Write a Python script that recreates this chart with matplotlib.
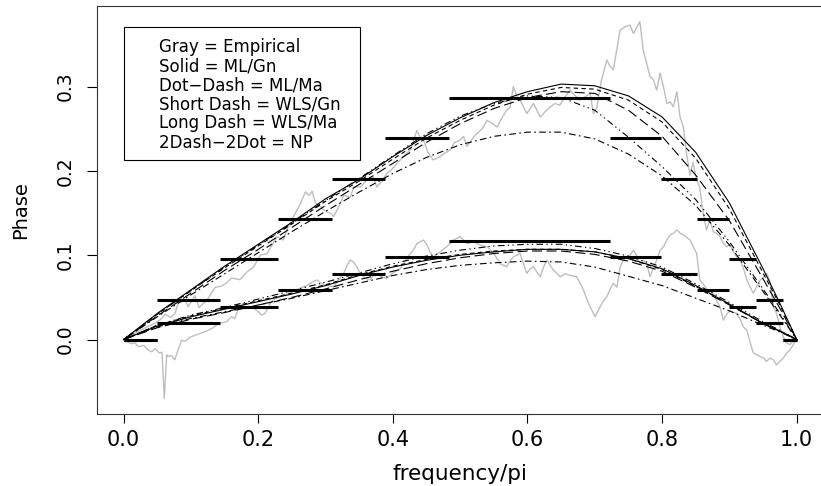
import matplotlib
matplotlib.use("Agg")
import matplotlib.pyplot as plt
from matplotlib.patches import Rectangle

# frequency grid for the fitted phase curves
freq = [0.0, 0.05, 0.1, 0.15, 0.2, 0.25, 0.3, 0.35, 0.4, 0.45, 0.5,
        0.55, 0.6, 0.65, 0.7, 0.75, 0.8, 0.85, 0.9, 0.95, 0.975, 1.0]

# upper group of fits
hi_ml_gn = [0.0, 0.031, 0.059, 0.087, 0.113, 0.139, 0.167, 0.190, 0.217, 0.242, 0.263,
            0.281, 0.294, 0.303, 0.301, 0.289, 0.264, 0.222, 0.162, 0.084, 0.043, 0.0]
hi_ml_ma = [0.0, 0.027, 0.053, 0.078, 0.103, 0.128, 0.152, 0.175, 0.197, 0.216, 0.231,
            0.241, 0.246, 0.246, 0.238, 0.220, 0.194, 0.159, 0.112, 0.057, 0.029, 0.0]
hi_wls_gn = [0.0, 0.030, 0.058, 0.085, 0.111, 0.137, 0.164, 0.188, 0.214, 0.239, 0.260,
             0.278, 0.291, 0.299, 0.297, 0.284, 0.258, 0.215, 0.155, 0.079, 0.041, 0.0]
hi_wls_ma = [0.0, 0.028, 0.055, 0.082, 0.107, 0.133, 0.159, 0.184, 0.209, 0.234, 0.256,
             0.274, 0.287, 0.294, 0.292, 0.272, 0.241, 0.195, 0.141, 0.072, 0.037, 0.0]
hi_np = [0.0, 0.030, 0.058, 0.086, 0.112, 0.138, 0.165, 0.191, 0.218, 0.244, 0.265,
         0.280, 0.289, 0.287, 0.272, 0.240, 0.205, 0.166, 0.116, 0.060, 0.031, 0.0]

# lower group of fits
lo_ml_gn = [0.0, 0.016, 0.027, 0.036, 0.045, 0.054, 0.064, 0.076, 0.086, 0.094, 0.100,
            0.104, 0.107, 0.107, 0.104, 0.096, 0.084, 0.064, 0.042, 0.019, 0.010, 0.0]
lo_ml_ma = [0.0, 0.015, 0.025, 0.033, 0.041, 0.049, 0.058, 0.067, 0.076, 0.083, 0.088,
            0.091, 0.093, 0.092, 0.086, 0.075, 0.064, 0.049, 0.034, 0.017, 0.009, 0.0]
lo_wls_gn = [0.0, 0.017, 0.028, 0.037, 0.046, 0.055, 0.065, 0.077, 0.087, 0.095, 0.101,
             0.105, 0.107, 0.107, 0.104, 0.096, 0.083, 0.063, 0.042, 0.019, 0.010, 0.0]
lo_wls_ma = [0.0, 0.014, 0.024, 0.032, 0.041, 0.050, 0.060, 0.071, 0.081, 0.090, 0.097,
             0.102, 0.105, 0.105, 0.101, 0.093, 0.081, 0.062, 0.041, 0.019, 0.010, 0.0]
lo_np = [0.0, 0.017, 0.029, 0.038, 0.048, 0.058, 0.068, 0.079, 0.090, 0.099, 0.106,
         0.111, 0.113, 0.113, 0.108, 0.099, 0.086, 0.066, 0.044, 0.021, 0.011, 0.0]

# empirical phase, upper
emp_hi_x = [0.0, 0.01, 0.02, 0.03, 0.04, 0.048, 0.055, 0.062, 0.07, 0.0763, 0.081, 0.091,
            0.096, 0.106, 0.112, 0.124, 0.136, 0.144, 0.153, 0.16, 0.173, 0.183, 0.193,
            0.203, 0.213, 0.222, 0.228, 0.237, 0.245, 0.2525, 0.262, 0.27, 0.276, 0.28,
            0.285, 0.292, 0.3, 0.307, 0.312, 0.32, 0.327, 0.337, 0.342, 0.352, 0.361,
            0.371, 0.376, 0.384, 0.391, 0.4, 0.411, 0.418, 0.426, 0.4357, 0.4405, 0.4455,
            0.452, 0.46, 0.47, 0.477, 0.485, 0.492, 0.5, 0.505, 0.51, 0.518, 0.525, 0.533,
            0.54, 0.548, 0.555, 0.56, 0.569, 0.574, 0.579, 0.584, 0.589, 0.594, 0.599,
            0.604, 0.609, 0.614, 0.619, 0.626, 0.634, 0.641, 0.648, 0.656, 0.6633, 0.67,
            0.678, 0.686, 0.693, 0.698, 0.703, 0.71, 0.718, 0.722, 0.7276, 0.733, 0.7376,
            0.745, 0.7524, 0.7574, 0.762, 0.767, 0.772, 0.777, 0.782, 0.787, 0.792, 0.797,
            0.802, 0.807, 0.812, 0.8167, 0.822, 0.8267, 0.8316, 0.8366, 0.8415, 0.846,
            0.851, 0.856, 0.861, 0.866, 0.871, 0.876, 0.881, 0.886, 0.891, 0.896, 0.901,
            0.906, 0.911, 0.916, 0.921, 0.926, 0.931, 0.9356, 0.94, 0.945, 0.9505, 0.9554,
            0.96, 0.9653, 0.97, 0.975, 0.98, 0.985, 0.99, 0.995, 1.0]
emp_hi_y = [0.0, 0.004, 0.009, 0.013, 0.017, 0.02, 0.024, 0.03, 0.026, 0.031, 0.043, 0.047,
            0.039, 0.052, 0.038, 0.047, 0.062, 0.063, 0.067, 0.073, 0.071, 0.08, 0.086,
            0.1, 0.102, 0.114, 0.122, 0.118, 0.135, 0.146, 0.16, 0.175, 0.171, 0.176,
            0.162, 0.158, 0.152, 0.15, 0.146, 0.158, 0.171, 0.169, 0.181, 0.181, 0.189,
            0.193, 0.181, 0.188, 0.197, 0.203, 0.213, 0.219, 0.225, 0.248, 0.24, 0.2366,
            0.222, 0.213, 0.217, 0.221, 0.225, 0.234, 0.2366, 0.241, 0.229, 0.238, 0.2446, 0.25,
            0.26, 0.256, 0.252, 0.26, 0.272, 0.275, 0.3, 0.289, 0.284, 0.276, 0.268,
            0.274, 0.28, 0.272, 0.264, 0.27, 0.276, 0.28, 0.278, 0.288, 0.296, 0.29,
            0.284, 0.288, 0.292, 0.268, 0.275, 0.308, 0.3315, 0.325, 0.32, 0.345, 0.367,
            0.371, 0.373, 0.363, 0.37, 0.377, 0.343, 0.328, 0.312, 0.308, 0.296, 0.316,
            0.3, 0.28, 0.282, 0.276, 0.294, 0.264, 0.2524, 0.219, 0.195, 0.21,
            0.19, 0.18, 0.15, 0.13, 0.142, 0.128, 0.126, 0.122, 0.114, 0.11, 0.113,
            0.104, 0.098, 0.094, 0.084, 0.0706, 0.062, 0.0548, 0.062, 0.07, 0.074, 0.0785,
            0.07, 0.039, 0.031, 0.015, 0.003, -0.004, -0.006, -0.002, 0.0]

# empirical phase, lower
emp_lo_x = [0.0, 0.006, 0.012, 0.017, 0.022, 0.03, 0.036, 0.0416, 0.047, 0.053, 0.057,
            0.0604, 0.064, 0.066, 0.071, 0.076, 0.081, 0.086, 0.092, 0.099, 0.106, 0.113,
            0.12, 0.1257, 0.133, 0.1406, 0.147, 0.153, 0.16, 0.165, 0.17, 0.18, 0.19, 0.2,
            0.205, 0.21, 0.216, 0.22, 0.2297, 0.24, 0.25, 0.2623, 0.272, 0.28, 0.287,
            0.295, 0.303, 0.312, 0.32, 0.327, 0.332, 0.3366, 0.3415, 0.3465, 0.351, 0.356,
            0.361, 0.366, 0.371, 0.376, 0.384, 0.391, 0.4, 0.411, 0.4257, 0.4307, 0.4357,
            0.4455, 0.451, 0.455, 0.46, 0.47, 0.48, 0.49, 0.5, 0.51, 0.52, 0.53, 0.54,
            0.55, 0.5594, 0.569, 0.574, 0.579, 0.589, 0.594, 0.599, 0.604, 0.609, 0.614,
            0.619, 0.624, 0.6287, 0.6336, 0.6386, 0.6485, 0.656, 0.664, 0.673, 0.678,
            0.6832, 0.688, 0.693, 0.7005, 0.704, 0.708, 0.713, 0.718, 0.723, 0.7276,
            0.733, 0.7376, 0.742, 0.7475, 0.752, 0.7574, 0.762, 0.767, 0.772, 0.7772,
            0.782, 0.787, 0.792, 0.797, 0.802, 0.807, 0.812, 0.817, 0.822, 0.827, 0.832,
            0.8415, 0.8465, 0.8514, 0.856, 0.861, 0.866, 0.871, 0.876, 0.881, 0.886,
            0.891, 0.896, 0.901, 0.906, 0.911, 0.916, 0.9207, 0.926, 0.931, 0.9356,
            0.9405, 0.9455, 0.951, 0.955, 0.9604, 0.9653, 0.97, 0.975, 0.98, 0.985, 0.99,
            0.995, 1.0]
emp_lo_y = [0.0, -0.003, -0.005, -0.004, -0.0085, -0.007, -0.012, -0.0145, -0.011, -0.016,
            -0.015, -0.07, -0.018, -0.02, -0.019, -0.024, -0.012, -0.001, -0.002, 0.003,
            0.005, 0.007, 0.009, 0.011, 0.014, 0.019, 0.02, 0.021, 0.027, 0.025, 0.035,
            0.037, 0.039, 0.033, 0.029, 0.031, 0.04, 0.045, 0.0508, 0.053, 0.057, 0.0607,
            0.064, 0.068, 0.0706, 0.066, 0.064, 0.0626, 0.071, 0.0785, 0.088, 0.0943,
            0.092, 0.0864, 0.079, 0.0745, 0.072, 0.0706, 0.076, 0.0785, 0.074, 0.0726,
            0.079, 0.084, 0.102, 0.106, 0.114, 0.118, 0.112, 0.104, 0.098, 0.104, 0.11,
            0.118, 0.122, 0.114, 0.116, 0.112, 0.11, 0.102, 0.09, 0.0864, 0.093, 0.098,
            0.102, 0.09, 0.0785, 0.084, 0.0864, 0.08, 0.0745, 0.086, 0.0943, 0.088, 0.0824,
            0.0745, 0.078, 0.076, 0.0745, 0.067, 0.0587, 0.048, 0.039, 0.027, 0.033,
            0.039, 0.046, 0.0508, 0.06, 0.0667, 0.062, 0.086, 0.094, 0.098, 0.1, 0.106,
            0.1, 0.09, 0.094, 0.09, 0.0745, 0.085, 0.0943, 0.106, 0.11, 0.118, 0.124,
            0.126, 0.13, 0.126, 0.124, 0.118, 0.11, 0.102, 0.0706, 0.066, 0.06, 0.058,
            0.0548, 0.046, 0.039, 0.023, 0.03, 0.034, 0.032, 0.031, 0.024, 0.015, 0.011,
            -0.004, -0.016, -0.018, -0.02, -0.022, -0.026, -0.022, -0.024, -0.03, -0.026,
            -0.022, -0.016, -0.0125, -0.006, 0.0]

# piecewise constant estimate
breaks = [0.0, 0.05, 0.143, 0.229, 0.309, 0.389, 0.484, 0.723, 0.798, 0.852, 0.899,
          0.94, 0.979, 1.0]
hi_steps = [0.0, 0.047, 0.0955, 0.143, 0.19, 0.239, 0.286, 0.239, 0.19, 0.143, 0.0955,
            0.047, 0.0]
lo_steps = [0.0, 0.02, 0.0385, 0.0587, 0.078, 0.098, 0.1168, 0.098, 0.078, 0.0587,
            0.0385, 0.02, 0.0]

legend_lines = ["Gray = Empirical", "Solid = ML/Gn", "Dot\u2212Dash = ML/Ma",
                "Short Dash = WLS/Gn", "Long Dash = WLS/Ma", "2Dash\u22122Dot = NP"]

plt.rcParams['font.family'] = ['DejaVu Sans']

fig = plt.figure(figsize=(8.21, 4.86), dpi=100)
ax = fig.add_axes([0.1178, 0.1475, 0.8854, 0.8408])

ax.plot(emp_hi_x, emp_hi_y, color='#bebebe', lw=1.0)
ax.plot(emp_lo_x, emp_lo_y, color='#bebebe', lw=1.0)

styles = [
    (hi_ml_gn, lo_ml_gn, '-'),
    (hi_ml_ma, lo_ml_ma, (0, (1.5, 3, 6, 3))),
    (hi_wls_gn, lo_wls_gn, (0, (4, 3))),
    (hi_wls_ma, lo_wls_ma, (0, (9, 4))),
    (hi_np, lo_np, (0, (6, 3, 1.2, 3, 1.2, 3))),
]
for hi, lo, ls in styles:
    ax.plot(freq, hi, color='black', lw=0.8, linestyle=ls)
    ax.plot(freq, lo, color='black', lw=0.8, linestyle=ls)

ax.hlines(hi_steps, breaks[:-1], breaks[1:], color='black', lw=2.2)
ax.hlines(lo_steps, breaks[:-1], breaks[1:], color='black', lw=2.2)

ax.set_xlim(-0.04, 1.04)
ax.set_ylim(-0.0887, 0.396)

ax.set_xticks([0.0, 0.2, 0.4, 0.6, 0.8, 1.0])
ax.set_xticklabels(["0.0", "0.2", "0.4", "0.6", "0.8", "1.0"], fontsize=15)
ax.set_yticks([0.0, 0.1, 0.2, 0.3])
ax.set_yticklabels(["0.0", "0.1", "0.2", "0.3"], fontsize=13.5, rotation=90, va='center')
ax.tick_params(axis='x', direction='out', length=6.5, width=0.8, pad=5)
ax.tick_params(axis='y', direction='out', length=7.5, width=0.8, pad=8)
for s in ax.spines.values():
    s.set_linewidth(0.8)
    s.set_color('#333333')
# the right side of the box falls just outside the picture
ax.spines['right'].set_visible(False)

fig.text(459.7 / 821, 1 - 474 / 486, "frequency/pi", fontsize=15.5, ha='center', va='center')
fig.text(21 / 821, 1 - 210 / 486, "Phase", fontsize=14, rotation=90, ha='center', va='center')

# legend box (text only, as in base R legend)
ax.add_patch(Rectangle((0.0, 0.213), 0.3515, 0.158, fill=False, edgecolor='black', lw=0.8))
for i, txt in enumerate(legend_lines):
    ax.text(0.053, 0.347 - i * 0.02266, txt, fontsize=12, ha='left', va='center')

fig.savefig("out.png", dpi=100)
